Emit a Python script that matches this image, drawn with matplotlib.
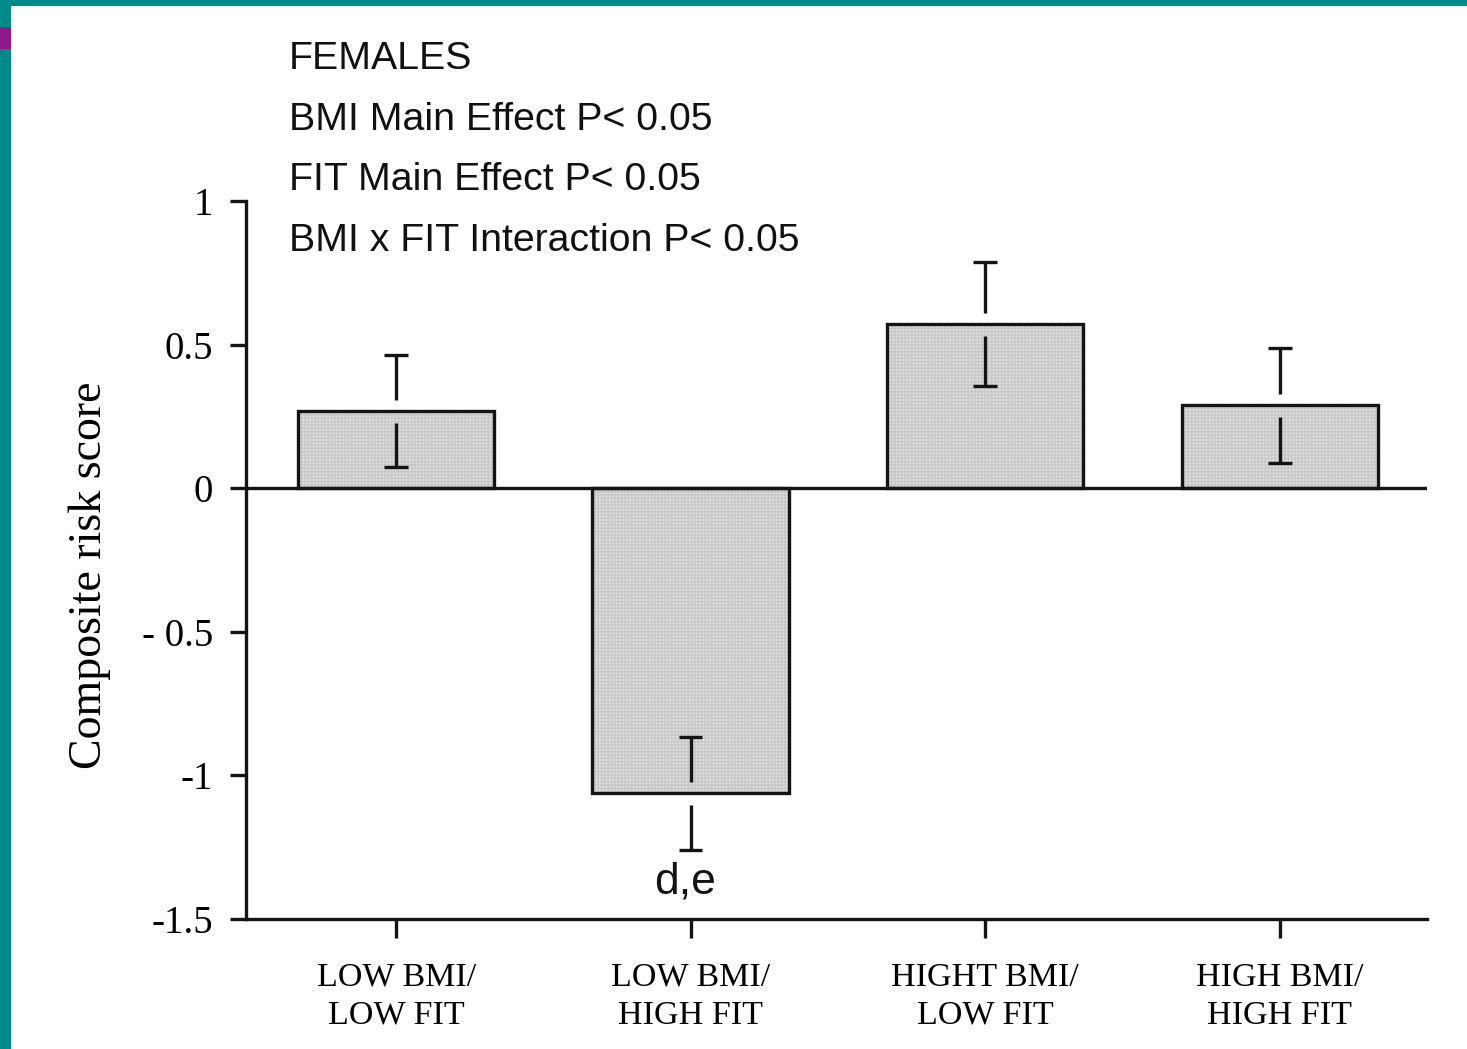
#Bar chart of composite risk score by BMI / fitness group (females)
import numpy as np
import matplotlib
matplotlib.use("Agg")
import matplotlib.pyplot as plt
from matplotlib.patches import Rectangle

#Data
groups = ["LOW BMI/\nLOW FIT", "LOW BMI/\nHIGH FIT", "HIGHT BMI/\nLOW FIT", "HIGH BMI/\nHIGH FIT"]
scores = [0.268, -1.063, 0.571, 0.289]
errors = [0.195, 0.197, 0.215, 0.200]
ytick_vals = [1, 0.5, 0, -0.5, -1, -1.5]
ytick_text = ["1", "0.5", "0", "- 0.5", "-1", "-1.5"]
notes = ["FEMALES", "BMI Main Effect P< 0.05", "FIT Main Effect P< 0.05",
         "BMI x FIT Interaction P< 0.05"]
sig_label = "d,e"
sig_group = 1

SERIF = "Liberation Serif"
SANS = "Liberation Sans"
LW = 2.4

fig = plt.figure(figsize=(14.67, 10.49), dpi=100)
W, H = 1467, 1049

#Frame decoration (teal border + purple marker)
fig.patches.append(Rectangle((0, 1 - 6 / H), 1, 6 / H, transform=fig.transFigure,
                             facecolor="#008a88", edgecolor="none", zorder=0))
fig.patches.append(Rectangle((0, 0), 11 / W, 1, transform=fig.transFigure,
                             facecolor="#008a88", edgecolor="none", zorder=0))
fig.patches.append(Rectangle((0, 1 - 49 / H), 11 / W, 22 / H, transform=fig.transFigure,
                             facecolor="#8b1a87", edgecolor="none", zorder=1))

ax = fig.add_axes([246 / W, 1 - 919 / H, (1427 - 246) / W, (919 - 201) / H])
x = np.arange(len(groups))

#Fill with a fine stipple, then outline
ax.bar(x, scores, width=0.667, color="#e0e0e0", edgecolor="#c8c8c8", linewidth=0,
       hatch="+++++", zorder=2)
ax.bar(x, scores, width=0.667, fill=False, edgecolor="#141414", linewidth=LW, zorder=3)
ax.axhline(0, color="#141414", linewidth=LW, zorder=3)

#Error bars: drawn with a small gap around the bar end, like the original
gap = 0.04
for xi, v, e in zip(x, scores, errors):
    ax.vlines(xi, v + gap, v + e, color="#141414", linewidth=LW, zorder=4)
    ax.vlines(xi, v - e, v - gap, color="#141414", linewidth=LW, zorder=4)
    ax.hlines([v + e, v - e], xi - 0.04, xi + 0.04, color="#141414", linewidth=LW, zorder=4)

ax.text(x[sig_group] - 0.02, scores[sig_group] - errors[sig_group] - 0.04, sig_label,
        ha="center", va="top", fontsize=32, family=SANS, color="#141414")

ax.set_xlim(-0.51, 3.5)
ax.set_ylim(-1.5, 1)
for s in ["top", "right"]:
    ax.spines[s].set_visible(False)
for s in ["left", "bottom"]:
    ax.spines[s].set_linewidth(LW)
    ax.spines[s].set_color("#141414")

ax.set_yticks(ytick_vals)
ax.set_yticklabels(ytick_text, family=SERIF, fontsize=28)
ax.set_xticks(x)
ax.set_xticklabels(groups, family=SERIF, fontsize=24.5, linespacing=1.32)
ax.tick_params(axis="y", direction="out", length=11.5, width=LW, pad=12, color="#141414")
ax.tick_params(axis="x", direction="out", length=14, width=LW, pad=17, color="#141414")

ax.set_ylabel("Composite risk score", family=SERIF, fontsize=33)
ax.yaxis.set_label_coords(-0.1145, 0.479)

#Stats notes at the top
baselines = [69, 130, 190, 251]
for t, b in zip(notes, baselines):
    fig.text(289 / W, 1 - b / H, t, ha="left", va="baseline", fontsize=28.3,
             family=SANS, color="#111111")

fig.savefig("out.png", dpi=100)
